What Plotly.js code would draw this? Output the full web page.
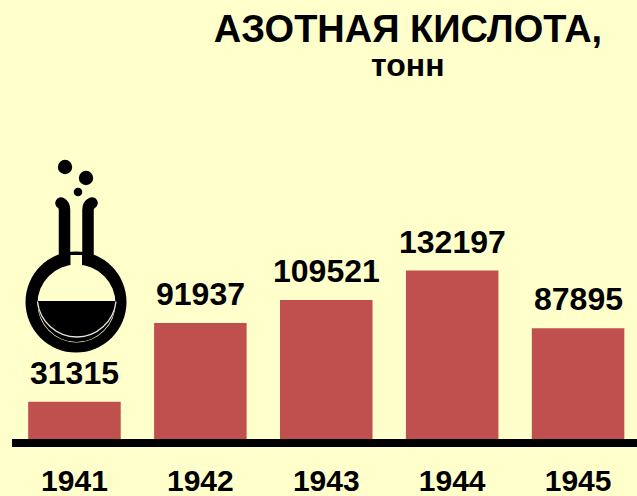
<!DOCTYPE html>
<html>
<head>
<meta charset="utf-8">
<script src="https://cdn.plot.ly/plotly-3.0.1.min.js"></script>
<style>html,body{margin:0;padding:0;background:#FFFFCC;overflow:hidden}</style>
</head>
<body>
<div id="chart" style="width:637px;height:496px"></div>
<script>
const years = ['1941','1942','1943','1944','1945'];
const tons = [31315,91937,109521,132197,87895];
const titleText = 'АЗОТНАЯ КИСЛОТА,';
const unitText = 'тонн';
const BG = '#FFFFCC', BAR = '#C0504D';
const FONT = '"Liberation Sans", Arial, sans-serif';

const flask = `<svg xmlns="http://www.w3.org/2000/svg" width="110" height="200" viewBox="20 155 110 200">
<circle cx="65" cy="167" r="7.2" fill="#000"/><circle cx="86" cy="178" r="7.2" fill="#000"/><circle cx="78" cy="192" r="4.300" fill="#000"/>
<path d="M64.500 265V210Q64.500 205 61 203M88 265V210Q88 205 92 203" fill="none" stroke="#000" stroke-width="11.500" stroke-linecap="round"/>
<circle cx="76" cy="302" r="50.500" fill="#000"/>
<circle cx="76.500" cy="303.500" r="39" fill="${BG}"/>
<rect x="70.500" y="255" width="11.500" height="20" fill="${BG}"/>
<path d="M37.500 301H115.500A39 41 0 0 1 37.500 301Z" fill="#000"/>
<path d="M37.500 301.500A39.500 40 0 0 0 116 301.500" fill="none" stroke="#E8E8D8" stroke-width="1.300"/>
</svg>`;

const data = [{
  type: 'bar', x: years, y: tons, marker: {color: BAR, line: {width: 0}},
  width: 0.735, hoverinfo: 'skip'
}];

const valueLabels = tons.map((v, i) => ({
  x: i, y: v, yref: 'y', xref: 'x', text: String(v), showarrow: false,
  yanchor: 'middle', yshift: 29, font: {family: FONT, size: 32, color: '#000', weight: 700}
}));

const layout = {
  width: 637, height: 496,
  paper_bgcolor: BG, plot_bgcolor: BG,
  margin: {l: 12, r: 0, t: 100, b: 57, pad: 0},
  showlegend: false, bargap: 0.265,
  font: {family: FONT, color: '#000'},
  title: {text: '<b>' + titleText + '</b>', x: 408/637, xanchor: 'center', xref: 'container',
          y: 1 - 28.500/496, yref: 'container', yanchor: 'middle',
          font: {family: FONT, size: 38, color: '#000'}},
  xaxis: {type: 'category', range: [-0.496, 4.468], showgrid: false, zeroline: false, showline: true,
          linecolor: '#000', linewidth: 8, ticks: 'outside', ticklen: 8, tickcolor: 'rgba(0,0,0,0)',
          tickfont: {family: FONT, size: 30, color: '#000', weight: 700}, automargin: false, fixedrange: true},
  yaxis: {range: [2690, 263234], visible: false, fixedrange: true},
  annotations: valueLabels.concat([{
    xref: 'paper', yref: 'paper', x: (407.500-12)/625, y: (439-65)/339, yanchor: 'middle', showarrow: false,
    text: unitText, font: {family: FONT, size: 32, color: '#000', weight: 700}
  }]),
  images: [{
    source: 'data:image/svg+xml;charset=utf-8,' + encodeURIComponent(flask),
    xref: 'paper', yref: 'paper', x: (20-12)/625, y: (439-155)/339,
    sizex: 110/625, sizey: 200/339, xanchor: 'left', yanchor: 'top', sizing: 'stretch', layer: 'above'
  }]
};
Plotly.newPlot('chart', data, layout, {displayModeBar: false, staticPlot: true});
</script>
</body>
</html>
